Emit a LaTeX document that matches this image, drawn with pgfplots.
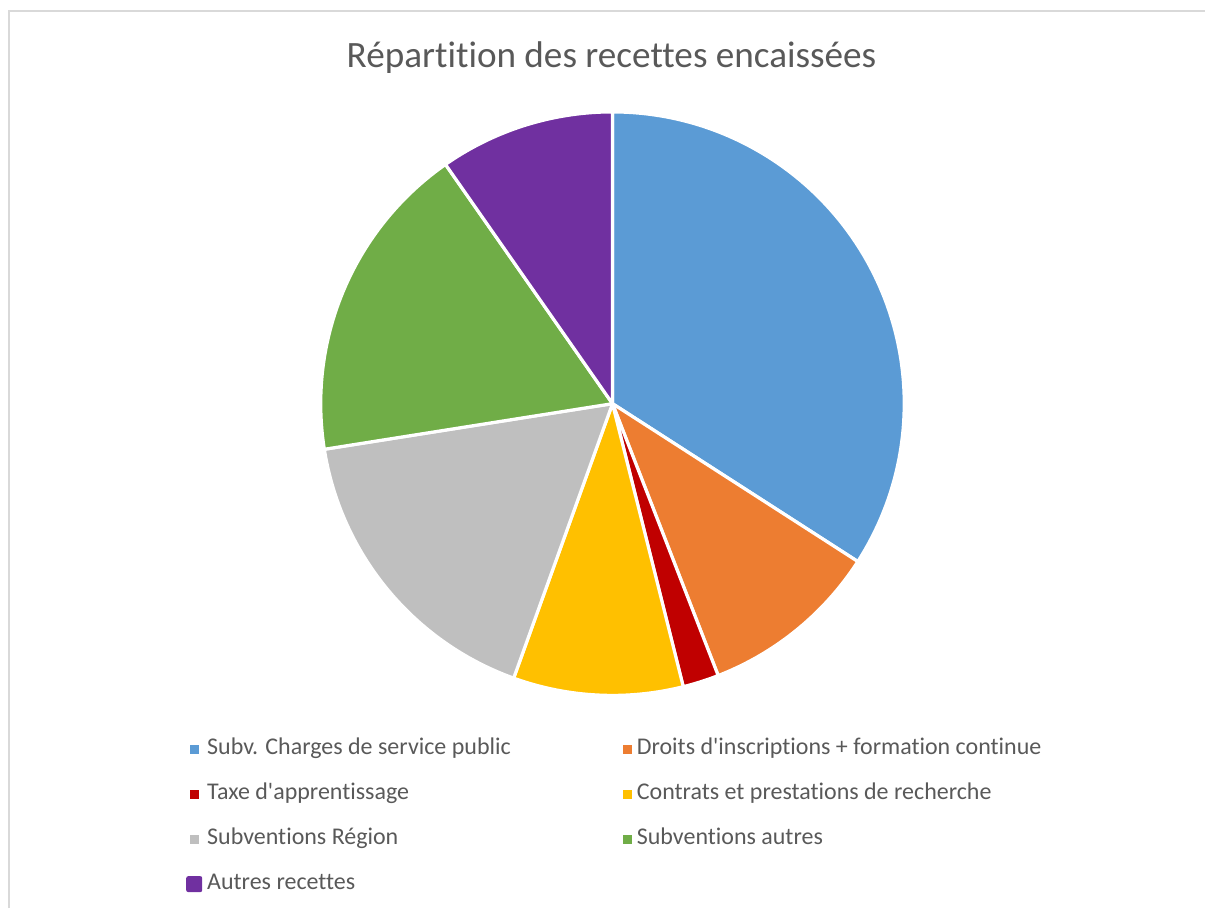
\documentclass[border=0pt]{standalone}
\usepackage{fontspec}
\setmainfont{Carlito}[Ligatures={NoCommon}]
\usepackage{pgfplots}
\pgfplotsset{compat=1.18}

\definecolor{cBlue}{HTML}{5B9BD5}
\definecolor{cOrange}{HTML}{ED7D31}
\definecolor{cRed}{HTML}{C00000}
\definecolor{cYellow}{HTML}{FFC000}
\definecolor{cGray}{HTML}{BFBFBF}
\definecolor{cGreen}{HTML}{70AD47}
\definecolor{cPurple}{HTML}{7030A0}
\definecolor{txt}{HTML}{595959}
\definecolor{frame}{HTML}{D9D9D9}

\pgfplotsset{bigsquare/.style={legend image code/.code={%
  \path[##1,draw=none,rounded corners=1pt] (-2pt,-4pt) rectangle (6pt,4pt);}}}

% pie slice: start (%), share (%), colour, label ; centre (613,-404), r=292
\newcommand{\slice}[5][]{%
  \addplot[fill=#4, draw=white, line width=1.6pt, line join=round,
    domain=90-3.6*(#2+#3):90-3.6*#2, samples=90, variable=\t, #1]
    ({613+292*cos(\t)},{-404+292*sin(\t)}) -- (axis cs:613,-404) -- cycle;
  \addlegendentry{#5}}

\begin{document}
\begin{tikzpicture}
\begin{axis}[
  width=603pt, height=454.5pt, scale only axis,
  xmin=0, xmax=1206, ymin=-909, ymax=0,
  hide axis, clip=false,
  legend columns=2,
  legend cell align=left,
  legend style={draw=none, fill=none, at={(axis cs:186,-739)}, anchor=north west,
    font=\fontsize{12}{14}\selectfont, text=txt,
    row sep=12pt, column sep=0pt, inner sep=0pt,
    nodes={inner xsep=2.5pt, inner ysep=0pt, text height=8pt, text depth=2.5pt}},
  legend image code/.code={\path[#1,draw=none] (0pt,-2.25pt) rectangle (4.5pt,2.25pt);},
]
\path (axis cs:0,0) rectangle (axis cs:1206,-909);
\draw[frame, line width=1pt] (axis cs:9,-909) -- (axis cs:9,-11) -- (axis cs:1206,-11);
\node[anchor=base, text=txt, font=\fontsize{18.6}{22}\selectfont] at (axis cs:612,-68)
  {Répartition des recettes encaissées};

\slice{0}{34.1}{cBlue}{\makebox[205.5pt][l]{Subv. Charges de service public}}
\slice{34.1}{10.0}{cOrange}{Droits d\textquotesingle inscriptions + formation continue}
\slice{44.1}{2.0}{cRed}{\makebox[205.5pt][l]{Taxe d\textquotesingle apprentissage}}
\slice{46.1}{9.4}{cYellow}{Contrats et prestations de recherche}
\slice{55.5}{17.0}{cGray}{\makebox[205.5pt][l]{Subventions Région}}
\slice{72.5}{17.8}{cGreen}{Subventions autres}
\slice[bigsquare]{90.3}{9.7}{cPurple}{Autres recettes}
\end{axis}
\end{tikzpicture}
\end{document}
